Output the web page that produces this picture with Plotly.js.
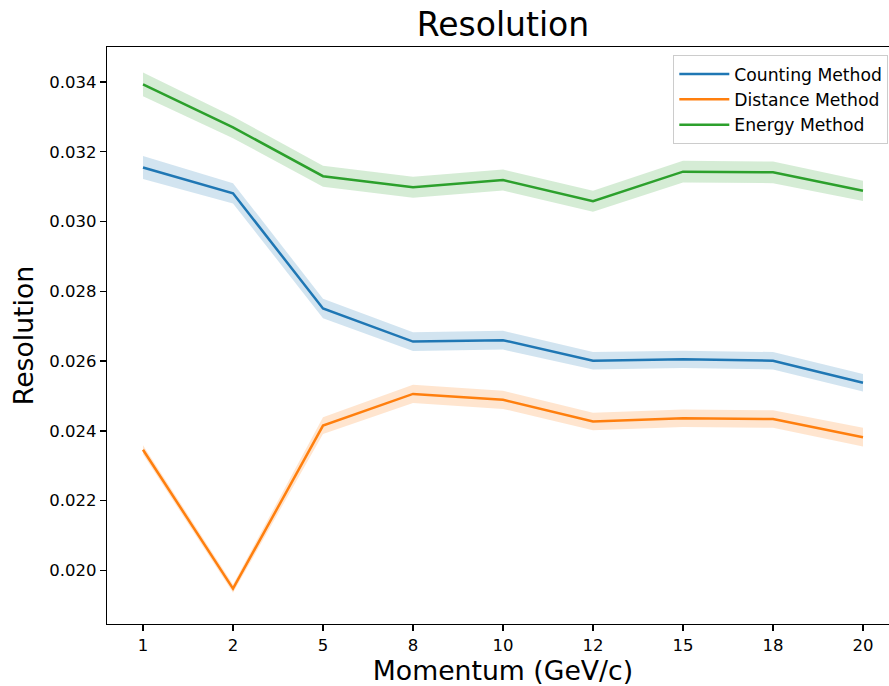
<!DOCTYPE html>
<html>
<head>
<meta charset="utf-8">
<script src="https://cdn.plot.ly/plotly-3.0.1.min.js"></script>
<style>
  html, body { margin: 0; padding: 0; background: #fff; overflow: hidden; }
  #frame { width: 889px; height: 686px; overflow: hidden; }
  #chart { width: 910px; height: 686px; }
</style>
</head>
<body>
<div id="frame"><div id="chart"></div></div>
<script>
// Momentum points (GeV/c), shown as evenly spaced categories
const momentum = ['1', '2', '5', '8', '10', '12', '15', '18', '20'];

// Mean resolution and spread for each reconstruction method
const counting    = [0.03155, 0.03081, 0.02751, 0.02656, 0.02660, 0.02601, 0.02605, 0.02601, 0.02538];
const countingErr = [0.00033, 0.00029, 0.00028, 0.00027, 0.00027, 0.00025, 0.00025, 0.00025, 0.00025];

const distance    = [0.02346, 0.01948, 0.02415, 0.02506, 0.02489, 0.02427, 0.02436, 0.02434, 0.02382];
const distanceErr = [0.00013, 0.00012, 0.00024, 0.00026, 0.00026, 0.00025, 0.00025, 0.00025, 0.00027];

const energy      = [0.03393, 0.03270, 0.03130, 0.03098, 0.03119, 0.03058, 0.03143, 0.03141, 0.03088];
const energyErr   = [0.00034, 0.00031, 0.00030, 0.00030, 0.00030, 0.00030, 0.00031, 0.00031, 0.00029];

const seriesNames = ['Counting Method', 'Distance Method', 'Energy Method'];

const FONT = 'DejaVu Sans, Verdana, sans-serif';

function bandTraces(name, y, err, color, fill) {
  const lo = y.map((v, i) => v - err[i]);
  const hi = y.map((v, i) => v + err[i]);
  return [
    { x: momentum, y: lo, type: 'scatter', mode: 'lines',
      line: { width: 0, color: color }, hoverinfo: 'skip', showlegend: false },
    { x: momentum, y: hi, type: 'scatter', mode: 'lines', fill: 'tonexty',
      fillcolor: fill, line: { width: 0, color: color }, hoverinfo: 'skip', showlegend: false },
    { x: momentum, y: y, type: 'scatter', mode: 'lines', name: name,
      line: { width: 2.5, color: color } }
  ];
}

const data = [].concat(
  bandTraces(seriesNames[0], counting, countingErr, '#1f77b4', 'rgba(31,119,180,0.2)'),
  bandTraces(seriesNames[1], distance, distanceErr, '#ff7f0e', 'rgba(255,127,14,0.2)'),
  bandTraces(seriesNames[2], energy, energyErr, '#2ca02c', 'rgba(44,160,44,0.2)')
);

const layout = {
  width: 910,
  height: 686,
  margin: { l: 106.5, r: 11.3, t: 46.7, b: 61.7 },
  paper_bgcolor: '#fff',
  plot_bgcolor: '#fff',
  font: { family: FONT, color: '#000' },
  title: {
    text: 'Resolution',
    font: { family: FONT, size: 33, color: '#000' },
    x: 0.5, xref: 'paper', xanchor: 'center',
    y: 1 - 13 / 686, yref: 'container', yanchor: 'top'
  },
  xaxis: {
    type: 'category',
    range: [-0.4, 8.4],
    showgrid: false, zeroline: false,
    showline: true, mirror: true, linecolor: '#000', linewidth: 1.33,
    ticks: 'outside', ticklen: 5.8, tickwidth: 1.33, tickcolor: '#000',
    tickfont: { family: FONT, size: 16.5, color: '#000' },
    title: { text: 'Momentum (GeV/c)', font: { family: FONT, size: 26.7, color: '#000' }, standoff: 8 }
  },
  yaxis: {
    range: [0.018465, 0.035002],
    tick0: 0.02, dtick: 0.002, tickformat: '.3f',
    showgrid: false, zeroline: false,
    showline: true, mirror: true, linecolor: '#000', linewidth: 1.33,
    ticks: 'outside', ticklen: 5.8, tickwidth: 1.33, tickcolor: '#000',
    tickfont: { family: FONT, size: 16.5, color: '#000' },
    title: { text: 'Resolution', font: { family: FONT, size: 26.7, color: '#000' }, standoff: 8 }
  },
  legend: {
    x: 0.9865, xanchor: 'right', xref: 'paper',
    y: 0.9856, yanchor: 'top', yref: 'paper',
    traceorder: 'normal',
    itemwidth: 50,
    bgcolor: 'rgba(255,255,255,0.8)',
    bordercolor: '#cccccc', borderwidth: 1,
    font: { family: FONT, size: 17.2, color: '#000' }
  },
  showlegend: true
};

Plotly.newPlot('chart', data, layout, { displayModeBar: false, staticPlot: true });
</script>
</body>
</html>
